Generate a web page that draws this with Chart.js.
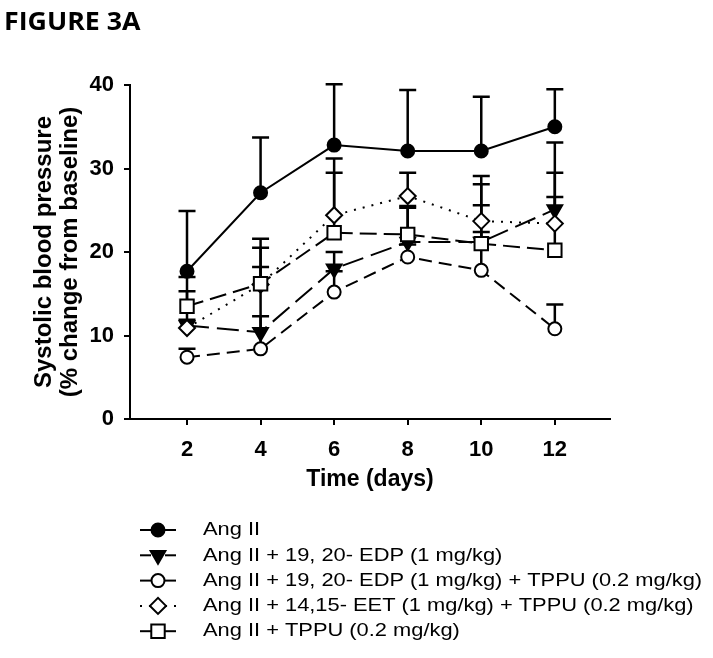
<!DOCTYPE html>
<html>
<head>
<meta charset="utf-8">
<script src="https://cdn.jsdelivr.net/npm/chart.js@4.4.0/dist/chart.umd.min.js"></script>
<style>
html, body { margin: 0; padding: 0; background: #fff; }
</style>
</head>
<body>
<canvas id="myChart" width="713" height="658"></canvas>
<script>
// x values (days) and tick labels
var days = [2, 4, 6, 8, 10, 12];
var xTicks = [2, 4, 6, 8, 10, 12];

// means and one-sided (upper) error bars
var angII = [17.7, 27.1, 32.8, 32.1, 32.1, 35.0];
var angIIErr = [7.2, 6.6, 7.3, 7.3, 6.5, 4.5];
var edp = [11.2, 10.4, 18.0, 21.2, 21.2, 25.1];
var edpErr = [5.8, 7.8, 2.0, 4.1, 6.9, 8.0];
var edpTppu = [7.4, 8.4, 15.2, 19.4, 17.8, 10.8];
var edpTppuErr = [1.0, 3.9, 2.5, 1.5, 4.6, 2.9];
var eetTppu = [10.9, 16.1, 24.4, 26.7, 23.7, 23.4];
var eetTppuErr = [1.0, 5.5, 6.8, 2.8, 5.4, 6.1];
var tppu = [13.5, 16.2, 22.3, 22.1, 21.0, 20.2];
var tppuErr = [1.8, 4.3, 7.2, 3.4, 4.6, 6.4];

var seriesNames = [
    'Ang II',
    'Ang II + 19, 20- EDP (1 mg/kg)',
    'Ang II + 19, 20- EDP (1 mg/kg) + TPPU (0.2 mg/kg)',
    'Ang II + 14,15- EET (1 mg/kg) + TPPU (0.2 mg/kg)',
    'Ang II + TPPU (0.2 mg/kg)'
];

function points(values) {
    return values.map(function (v, i) { return { x: days[i], y: v }; });
}

var fontFamily = 'Arial, "Liberation Sans", sans-serif';

function makeSet(idx, values, errors, style, filled, radius, dash, rotation) {
    return {
        label: seriesNames[idx],
        data: points(values),
        errors: errors,
        order: 5 - idx, // later series drawn on top
        borderColor: 'black',
        borderWidth: 2,
        borderDash: dash,
        pointStyle: style,
        pointRotation: rotation || 0,
        pointRadius: radius,
        pointBorderWidth: 2,
        pointBorderColor: 'black',
        pointBackgroundColor: filled ? 'black' : 'white',
        fill: false,
        tension: 0,
        clip: false
    };
}

var datasets = [
    makeSet(0, angII, angIIErr, 'circle', true, 6.5, []),
    makeSet(1, edp, edpErr, 'triangle', true, 8.5, [22, 8], 180),
    makeSet(2, edpTppu, edpTppuErr, 'circle', false, 6.5, [13, 7]),
    makeSet(3, eetTppu, eetTppuErr, 'rectRot', false, 8, [2, 7]),
    makeSet(4, tppu, tppuErr, 'rect', false, 9.5, [17, 7])
];

// upper error bars with caps, drawn under the markers
var errorBars = {
    id: 'errorBars',
    beforeDatasetsDraw: function (chart) {
        var ctx = chart.ctx, xs = chart.scales.x, ys = chart.scales.y;
        ctx.save();
        ctx.strokeStyle = 'black';
        ctx.lineWidth = 2.5;
        ctx.setLineDash([]);
        chart.data.datasets.forEach(function (ds) {
            ds.data.forEach(function (p, i) {
                var x = xs.getPixelForValue(p.x);
                var y0 = ys.getPixelForValue(p.y);
                var y1 = ys.getPixelForValue(p.y + ds.errors[i]);
                ctx.beginPath();
                ctx.moveTo(x, y0);
                ctx.lineTo(x, y1);
                ctx.moveTo(x - 8.5, y1);
                ctx.lineTo(x + 8.5, y1);
                ctx.stroke();
            });
        });
        ctx.restore();
    }
};

// figure label and the legend under the plot
var extras = {
    id: 'extras',
    afterDraw: function (chart) {
        var ctx = chart.ctx;
        ctx.save();
        ctx.fillStyle = 'black';
        ctx.textBaseline = 'alphabetic';
        ctx.font = 'bold 25px "Open Sans", "Noto Sans", sans-serif';
        ctx.translate(4, 30);
        ctx.scale(1.07, 1);
        ctx.fillText('FIGURE 3A', 0, 0);
        ctx.restore();

        chart.data.datasets.forEach(function (ds, i) {
            var y = 530 + i * 25.3;
            ctx.save();
            ctx.strokeStyle = 'black';
            ctx.lineWidth = 2;
            ctx.setLineDash(ds.borderDash);
            ctx.beginPath();
            ctx.moveTo(140, y);
            ctx.lineTo(151, y);
            ctx.stroke();
            ctx.beginPath();
            ctx.moveTo(165, y);
            ctx.lineTo(176, y);
            ctx.stroke();
            ctx.setLineDash([]);
            ctx.fillStyle = ds.pointBackgroundColor;
            Chart.helpers.drawPoint(ctx, {
                pointStyle: ds.pointStyle,
                rotation: ds.pointRotation,
                radius: ds.pointRadius,
                borderWidth: 2
            }, 158, y);
            ctx.fillStyle = 'black';
            ctx.font = '19px ' + fontFamily;
            ctx.textBaseline = 'middle';
            ctx.translate(203, y);
            ctx.scale(1.15, 1);
            ctx.fillText(ds.label, 0, 0);
            ctx.restore();
        });
    }
};

var ctx = document.getElementById('myChart').getContext('2d');
var myChart = new Chart(ctx, {
    type: 'line',
    data: { datasets: datasets },
    plugins: [errorBars, extras],
    options: {
        responsive: false,
        animation: false,
        layout: { padding: { left: 0, top: 85, right: 103, bottom: 159 } },
        plugins: {
            legend: { display: false },
            tooltip: { enabled: false }
        },
        scales: {
            x: {
                type: 'linear',
                min: 0.45,
                max: 13.5,
                afterBuildTicks: function (scale) {
                    scale.ticks = xTicks.map(function (v) { return { value: v }; });
                },
                afterFit: function (scale) { scale.height = 80; },
                grid: { display: true, drawOnChartArea: false, tickLength: 6, color: 'black', lineWidth: 2 },
                border: { display: true, color: 'black', width: 2 },
                ticks: {
                    color: 'black',
                    padding: 12,
                    maxRotation: 0,
                    autoSkip: false,
                    font: { family: fontFamily, size: 22, weight: 'bold' }
                },
                title: {
                    display: true,
                    text: 'Time (days)',
                    color: 'black',
                    padding: { top: 0, bottom: 6 },
                    font: { family: fontFamily, size: 23, weight: 'bold' }
                }
            },
            y: {
                min: 0,
                max: 40,
                afterFit: function (scale) { scale.width = 130; },
                grid: { display: true, drawOnChartArea: false, tickLength: 6, color: 'black', lineWidth: 2 },
                border: { display: true, color: 'black', width: 2 },
                ticks: {
                    stepSize: 10,
                    color: 'black',
                    padding: 10,
                    font: { family: fontFamily, size: 22, weight: 'bold' }
                },
                title: {
                    display: true,
                    text: ['Systolic blood pressure', '(% change from baseline)'],
                    color: 'black',
                    padding: { top: 31, bottom: 0 },
                    font: { family: fontFamily, size: 24, weight: 'bold', lineHeight: 1.08 }
                }
            }
        }
    }
});
</script>
</body>
</html>
